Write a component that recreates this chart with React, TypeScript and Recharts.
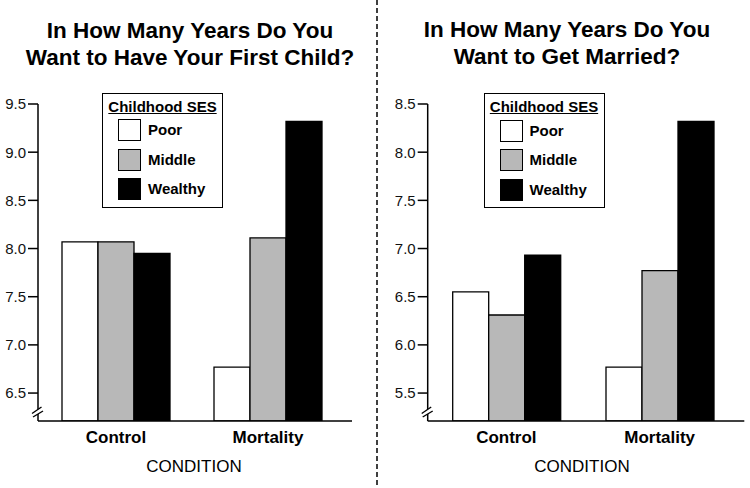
import React from 'react';
import { BarChart, Bar, XAxis, YAxis, Legend, Label } from 'recharts';

const conditions = ['Control', 'Mortality'];
const sesGroups = ['Poor', 'Middle', 'Wealthy'];
const sesColors = ['#ffffff', '#b8b8b8', '#000000'];

const childPoor = [8.07, 6.77];
const childMiddle = [8.07, 8.11];
const childWealthy = [7.95, 9.32];

const marriedPoor = [6.55, 5.77];
const marriedMiddle = [6.31, 6.77];
const marriedWealthy = [6.93, 8.32];

const childTicks = [6.5, 7.0, 7.5, 8.0, 8.5, 9.0, 9.5];
const marriedTicks = [5.5, 6.0, 6.5, 7.0, 7.5, 8.0, 8.5];
const childDomain = [6.21, 9.5];
const marriedDomain = [5.21, 8.5];

const childTitle = ['In How Many Years Do You', 'Want to Have Your First Child?'];
const marriedTitle = ['In How Many Years Do You', 'Want to Get Married?'];
const xAxisTitle = 'CONDITION';
const legendTitle = 'Childhood SES';

const FONT = '"Liberation Sans", Arial, Helvetica, sans-serif';

function buildData(poor: number[], middle: number[], wealthy: number[]) {
  return conditions.map((c, i) => ({
    condition: c,
    [sesGroups[0]]: poor[i],
    [sesGroups[1]]: middle[i],
    [sesGroups[2]]: wealthy[i],
  }));
}

const childData = buildData(childPoor, childMiddle, childWealthy);
const marriedData = buildData(marriedPoor, marriedMiddle, marriedWealthy);

function LegendBox() {
  return (
    <div
      style={{
        position: 'relative',
        width: 121,
        height: 115,
        border: '1.5px solid #000',
        boxSizing: 'border-box',
        background: '#fff',
        fontFamily: FONT,
      }}
    >
      <div
        style={{
          position: 'absolute',
          top: 4,
          left: 0,
          width: '100%',
          textAlign: 'center',
          fontSize: 15,
          fontWeight: 'bold',
          textDecoration: 'underline',
          lineHeight: '18px',
          color: '#000',
        }}
      >
        {legendTitle}
      </div>
      {sesGroups.map((g, i) => (
        <div key={g}>
          <div
            style={{
              position: 'absolute',
              left: 15,
              top: 25.5 + i * 29.5,
              width: 23,
              height: 22,
              background: sesColors[i],
              border: '1.5px solid #000',
              boxSizing: 'border-box',
            }}
          />
          <div
            style={{
              position: 'absolute',
              left: 45,
              top: 25.5 + i * 29.5,
              height: 22,
              lineHeight: '22px',
              fontSize: 15,
              fontWeight: 'bold',
              color: '#000',
            }}
          >
            {g}
          </div>
        </div>
      ))}
    </div>
  );
}

type PanelProps = {
  data: any[];
  ticks: number[];
  domain: number[];
  yWidth: number;
  rightMargin: number;
  legendLeft: number;
  legendTop: number;
  labelDx: number;
};

function Panel({ data, ticks, domain, yWidth, rightMargin, legendLeft, legendTop, labelDx }: PanelProps) {
  return (
    <BarChart
      width={375}
      height={488}
      data={data}
      margin={{ top: 104, right: rightMargin, bottom: 37, left: 0 }}
      barGap={0}
    >
      <XAxis
        dataKey="condition"
        height={30}
        tickLine={false}
        axisLine={{ stroke: '#000', strokeWidth: 1.5 }}
        tick={{ fontSize: 17, fontWeight: 'bold', fill: '#000', fontFamily: FONT }}
        tickMargin={4}
        padding={{ left: 2, right: 8 }}
        interval={0}
      >
        <Label
          value={xAxisTitle}
          position="bottom"
          offset={9}
          dx={labelDx}
          style={{ fontSize: 17, fill: '#000', fontFamily: FONT }}
        />
      </XAxis>
      <YAxis
        type="number"
        width={yWidth}
        domain={domain}
        ticks={ticks}
        allowDataOverflow
        interval={0}
        tickSize={10}
        tickMargin={2}
        tickFormatter={(v: number) => v.toFixed(1)}
        axisLine={{ stroke: '#000', strokeWidth: 1.5 }}
        tickLine={{ stroke: '#000', strokeWidth: 1.5 }}
        tick={{ fontSize: 15, fill: '#111', fontFamily: FONT }}
      />
      <Legend
        layout="horizontal"
        verticalAlign="middle"
        align="center"
        wrapperStyle={{ position: 'absolute', left: legendLeft, top: legendTop, width: 121, height: 115 }}
        content={() => <LegendBox />}
      />
      {sesGroups.map((g, i) => (
        <Bar
          key={g}
          dataKey={g}
          fill={sesColors[i]}
          stroke="#000"
          strokeWidth={1.3}
          barSize={36}
          isAnimationActive={false}
        />
      ))}
    </BarChart>
  );
}

function BreakMark({ ax, y }: { ax: number; y: number }) {
  return (
    <g>
      <polygon
        points={`${ax - 6},${y + 2.5} ${ax + 3.5},${y - 4} ${ax + 5},${y} ${ax - 5},${y + 6}`}
        fill="#fff"
      />
      <line x1={ax - 6} y1={y + 2.5} x2={ax + 3.5} y2={y - 4} stroke="#000" strokeWidth={1.4} />
      <line x1={ax - 5} y1={y + 6} x2={ax + 5} y2={y} stroke="#000" strokeWidth={1.4} />
    </g>
  );
}

export default function App() {
  return (
    <div
      style={{
        position: 'absolute',
        left: 0,
        top: 0,
        width: 750,
        height: 488,
        background: '#fff',
        fontFamily: FONT,
      }}
    >
      <div style={{ position: 'absolute', left: 0, top: 0 }}>
        <Panel
          data={childData}
          ticks={childTicks}
          domain={childDomain}
          yWidth={38}
          rightMargin={23}
          legendLeft={102}
          legendTop={92.5}
          labelDx={-1}
        />
      </div>
      <div style={{ position: 'absolute', left: 375, top: 0 }}>
        <Panel
          data={marriedData}
          ticks={marriedTicks}
          domain={marriedDomain}
          yWidth={52.7}
          rightMargin={5.7}
          legendLeft={108.5}
          legendTop={93}
          labelDx={-4}
        />
      </div>
      <svg
        width={750}
        height={488}
        style={{ position: 'absolute', left: 0, top: 0, pointerEvents: 'none' }}
      >
        <line x1={377} y1={0} x2={377} y2={488} stroke="#000" strokeWidth={1.5} strokeDasharray="5 3" />
        {childTitle.map((t, i) => (
          <text
            key={'c' + i}
            x={190}
            y={37.5 + i * 27}
            textAnchor="middle"
            fontSize={22.5}
            fontWeight="bold"
            fontFamily={FONT}
            fill="#000"
          >
            {t}
          </text>
        ))}
        {marriedTitle.map((t, i) => (
          <text
            key={'m' + i}
            x={567}
            y={36.5 + i * 27}
            textAnchor="middle"
            fontSize={22.5}
            fontWeight="bold"
            fontFamily={FONT}
            fill="#000"
          >
            {t}
          </text>
        ))}
        <BreakMark ax={38} y={411} />
        <BreakMark ax={427.7} y={411} />
      </svg>
    </div>
  );
}
